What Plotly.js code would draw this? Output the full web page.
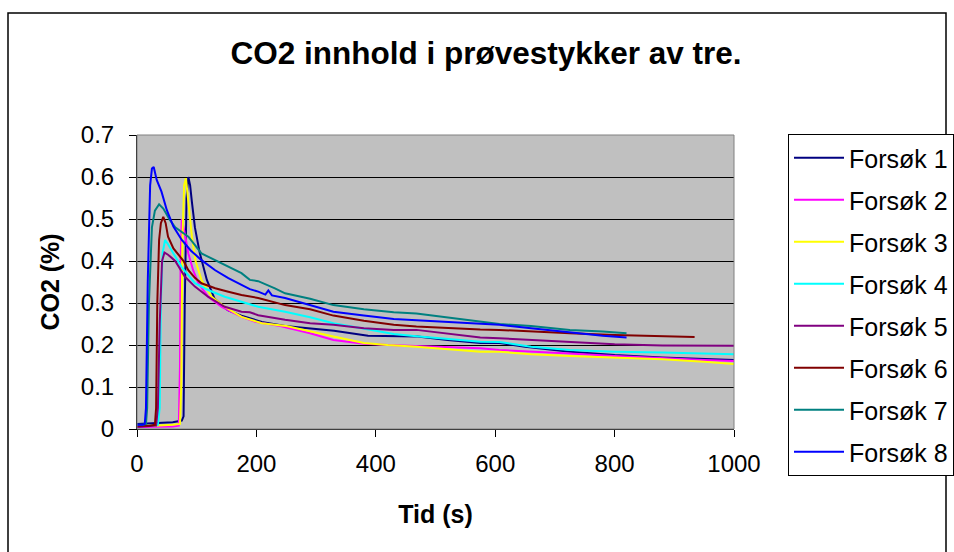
<!DOCTYPE html>
<html>
<head>
<meta charset="utf-8">
<script src="https://cdn.plot.ly/plotly-3.0.1.min.js"></script>
<style>html,body{margin:0;padding:0;background:#fff;}#chart{width:954px;height:552px;}</style>
</head>
<body>
<div id="chart"></div>
<script>
// Series names and colours
const seriesNames = ["Forsøk 1","Forsøk 2","Forsøk 3","Forsøk 4","Forsøk 5","Forsøk 6","Forsøk 7","Forsøk 8"];
const seriesColors = ["#000080","#FF00FF","#FFFF00","#00FFFF","#800080","#800000","#008080","#0000FF"];

// Forsøk 1
const t1 = [0,20,40,60,75,78,80,83,86,89,92,97,105,117,130,152,175,209,248,290,330,387,430,470,520,575,607,650,725,800,880,950,1000];
const v1 = [0.012,0.013,0.014,0.016,0.02,0.03,0.30,0.55,0.60,0.58,0.54,0.48,0.42,0.355,0.31,0.283,0.27,0.255,0.245,0.24,0.234,0.222,0.221,0.220,0.212,0.205,0.205,0.196,0.184,0.176,0.170,0.166,0.164];
// Forsøk 2
const t2 = [0,30,60,70,72,73,75,80,86,94,103,119,142,175,198,240,290,329,380,420,468,520,575,607,660,725,800,880,950,1000];
const v2 = [0.005,0.005,0.006,0.008,0.15,0.40,0.50,0.466,0.418,0.378,0.347,0.315,0.291,0.267,0.255,0.245,0.228,0.212,0.203,0.200,0.198,0.195,0.192,0.188,0.185,0.180,0.174,0.168,0.164,0.162];
// Forsøk 3
const t3 = [0,30,60,72,74,76,79,82,86,92,98,108,125,147,175,209,250,290,329,380,420,468,520,575,607,660,725,800,880,950,1000];
const v3 = [0.008,0.008,0.01,0.012,0.1,0.45,0.58,0.597,0.54,0.458,0.40,0.355,0.315,0.291,0.267,0.252,0.245,0.232,0.22,0.205,0.200,0.196,0.19,0.184,0.184,0.178,0.174,0.170,0.166,0.16,0.155];
// Forsøk 4
const t4 = [0,20,35,38,40,43,47,52,61,75,97,119,147,175,203,248,290,329,380,430,468,520,575,607,660,725,800,880,950,1000];
const v4 = [0.008,0.008,0.01,0.05,0.3,0.42,0.45,0.44,0.418,0.385,0.347,0.331,0.315,0.303,0.291,0.279,0.266,0.252,0.238,0.226,0.221,0.214,0.208,0.207,0.196,0.188,0.184,0.182,0.180,0.178];
// Forsøk 5
const t5 = [0,20,32,35,38,42,46,52,64,80,97,119,147,175,189,203,248,290,329,380,430,468,520,575,607,660,725,800,880,950,1000];
const v5 = [0.005,0.006,0.008,0.05,0.25,0.40,0.42,0.415,0.40,0.363,0.339,0.315,0.291,0.279,0.278,0.271,0.26,0.252,0.248,0.24,0.236,0.236,0.228,0.218,0.216,0.212,0.208,0.202,0.199,0.198,0.198];
// Forsøk 6
const t6 = [0,20,30,32,34,37,40,44,48,52,61,70,78,86,97,108,131,153,175,203,248,290,329,380,430,468,520,575,607,660,725,800,880,934];
const v6 = [0.008,0.008,0.01,0.05,0.3,0.45,0.49,0.505,0.49,0.458,0.43,0.415,0.40,0.378,0.36,0.347,0.335,0.327,0.319,0.312,0.295,0.285,0.27,0.258,0.248,0.244,0.24,0.237,0.236,0.232,0.228,0.224,0.221,0.219];
// Forsøk 7
const t7 = [0,10,15,17,20,25,30,37,44,55,64,86,108,131,153,175,189,203,231,248,290,329,380,430,468,520,575,607,660,725,780,820];
const v7 = [0.01,0.01,0.012,0.05,0.3,0.48,0.52,0.535,0.525,0.498,0.48,0.458,0.418,0.402,0.386,0.371,0.355,0.352,0.335,0.323,0.31,0.295,0.285,0.278,0.275,0.265,0.255,0.25,0.245,0.236,0.232,0.228];
// Forsøk 8
const t8 = [0,10,13,15,18,22,25,28,33,41,50,61,75,90,108,131,153,175,189,203,215,220,226,248,290,329,380,430,468,520,575,607,660,725,780,820];
const v8 = [0.01,0.01,0.012,0.05,0.35,0.58,0.62,0.624,0.593,0.565,0.521,0.482,0.45,0.425,0.402,0.378,0.359,0.343,0.333,0.327,0.32,0.33,0.318,0.312,0.295,0.279,0.27,0.262,0.259,0.255,0.25,0.248,0.24,0.23,0.222,0.218];

const xTicks = [0,200,400,600,800,1000];
const yTicks = [0,0.1,0.2,0.3,0.4,0.5,0.6,0.7];

const times = [t1,t2,t3,t4,t5,t6,t7,t8];
const vals = [v1,v2,v3,v4,v5,v6,v7,v8];

const FONT = "Liberation Sans, Arial, sans-serif";

const traces = seriesNames.map((name, i) => ({
  type: "scatter",
  mode: "lines",
  name: name,
  x: times[i],
  y: vals[i],
  legendgroup: "g" + i,
  line: {color: seriesColors[i], width: 2}
}));

// pixel helpers for paper coordinates (plot area: x 137..734, y 135..429)
const L = 137, R = 734, T = 135, B = 429;
const px = v => (v - L) / (R - L);
const py = v => (B - v) / (B - T);

const layout = {
  width: 954,
  height: 552,
  margin: {l: L, r: 954 - R, t: T, b: 552 - B, pad: 0, autoexpand: false},
  paper_bgcolor: "#ffffff",
  plot_bgcolor: "#C0C0C0",
  font: {family: FONT, color: "#000000", size: 24},
  title: {
    text: "<b>CO2 innhold i prøvestykker av tre.</b>",
    font: {family: FONT, size: 31.5, color: "#000000"},
    x: 486 / 954, xref: "container", xanchor: "center",
    y: 1 - 53 / 552, yref: "container", yanchor: "middle"
  },
  xaxis: {
    range: [0, 1000],
    tickvals: xTicks,
    ticktext: xTicks.map(String),
    ticks: "outside", ticklen: 7, tickwidth: 1, tickcolor: "#000",
    ticklabelstandoff: 6,
    showline: true, linecolor: "#000", linewidth: 1,
    showgrid: false, zeroline: false,
    tickfont: {family: FONT, size: 24, color: "#000"},
    title: {text: "<b>Tid (s)</b>", font: {family: FONT, size: 25, color: "#000"}, standoff: 29},
    automargin: false
  },
  yaxis: {
    range: [0, 0.7],
    tickvals: yTicks,
    ticktext: yTicks.map(v => String(v)),
    ticks: "outside", ticklen: 7, tickwidth: 1, tickcolor: "#000",
    ticklabelstandoff: 10,
    showline: true, linecolor: "#000", linewidth: 1,
    showgrid: true, gridcolor: "#000", gridwidth: 1,
    zeroline: false,
    tickfont: {family: FONT, size: 24, color: "#000"},
    title: {text: "<b>CO2 (%)</b>", font: {family: FONT, size: 25, color: "#000"}, standoff: 14},
    automargin: false
  },
  legend: {
    x: 788 / 954, y: 1 - 134 / 552, xref: "container", yref: "container",
    xanchor: "left", yanchor: "top",
    bgcolor: "#ffffff", bordercolor: "#000", borderwidth: 1,
    font: {family: FONT, size: 25, color: "#000"},
    traceorder: "grouped", tracegroupgap: 6.5,
    itemwidth: 50,
    maxheight: 500
  },
  showlegend: true,
  shapes: [
    {type: "rect", xref: "paper", yref: "paper", x0: 0, x1: 1, y0: 0, y1: 1,
     line: {color: "#808080", width: 1}, fillcolor: "rgba(0,0,0,0)", layer: "above"},
    {type: "rect", xref: "paper", yref: "paper", x0: px(8), x1: px(946), y0: py(570), y1: py(13),
     line: {color: "#000", width: 1.5}, fillcolor: "rgba(0,0,0,0)", layer: "below"}
  ]
};

Plotly.newPlot("chart", traces, layout, {displayModeBar: false, staticPlot: true});
</script>
</body>
</html>
